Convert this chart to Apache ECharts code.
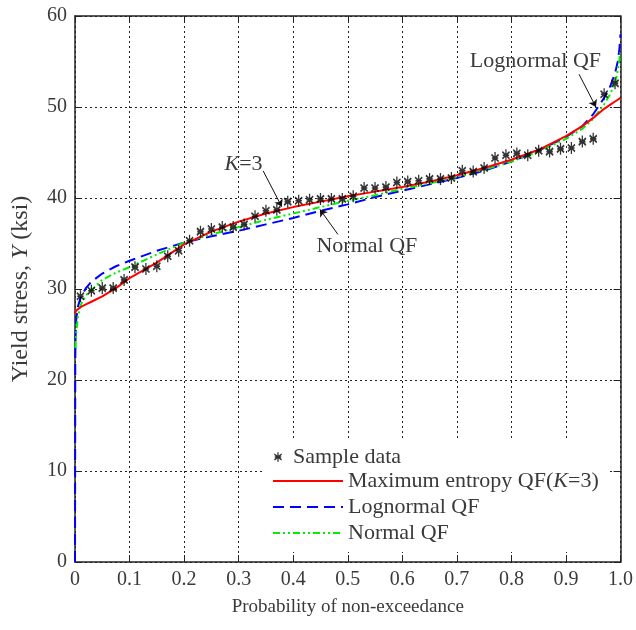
<!DOCTYPE html>
<html><head><meta charset="utf-8">
<script src="https://cdn.jsdelivr.net/npm/echarts@6/dist/echarts.min.js"></script>
<style>html,body{margin:0;padding:0;background:#fff}#c{width:636px;height:630px}</style>
</head><body><div id="c"></div>
<script>
// Sample data (plotting positions and yield stress, ksi)
const sampleP = [0.01,0.03,0.05,0.07,0.09,0.11,0.13,0.15,0.17,0.19,0.21,0.23,0.25,0.27,0.29,0.31,0.33,0.35,0.37,0.39,0.41,0.43,0.45,0.47,0.49,0.51,0.53,0.55,0.57,0.59,0.61,0.63,0.65,0.67,0.69,0.71,0.73,0.75,0.77,0.79,0.81,0.83,0.85,0.87,0.89,0.91,0.93,0.95,0.97,0.99];
const sampleY = [29.2,29.8,30.1,30.1,31.0,32.4,32.2,32.5,33.6,34.2,35.3,36.3,36.6,36.8,36.8,37.1,38.0,38.6,38.7,39.6,39.7,39.8,39.9,39.9,39.9,40.2,41.1,41.1,41.2,41.7,41.8,41.9,42.1,42.1,42.2,43.0,42.9,43.3,44.4,44.7,44.9,44.7,45.2,45.1,45.4,45.5,46.2,46.5,51.4,52.6];

// Maximum entropy QF (K=3)
const meP = [0,0.002,0.005,0.01,0.02,0.03,0.05,0.075,0.1,0.15,0.2,0.25,0.3,0.35,0.4,0.45,0.5,0.55,0.6,0.65,0.7,0.75,0.8,0.85,0.9,0.93,0.95,0.97,0.98,0.99,0.995,0.998,1.0];
const meY = [27.3,27.6,27.8,28.0,28.3,28.6,29.2,30.1,31.2,32.9,34.9,36.3,37.4,38.3,39.0,39.6,40.2,40.7,41.2,41.8,42.5,43.3,44.2,45.3,46.8,47.9,48.8,49.8,50.2,50.6,50.8,50.9,51.0];

// Lognormal QF
const lnP = [0,0.0005,0.001,0.002,0.005,0.01,0.02,0.03,0.05,0.075,0.1,0.15,0.2,0.25,0.3,0.35,0.4,0.45,0.5,0.55,0.6,0.65,0.7,0.75,0.8,0.85,0.9,0.93,0.95,0.97,0.98,0.99,0.995,0.998,1.0];
const lnY = [0,22.0,24.5,26.5,28.0,29.0,30.1,30.8,31.7,32.5,33.1,34.2,35.1,35.8,36.4,37.1,37.8,38.6,39.3,40.1,40.8,41.5,42.2,43.0,44.0,45.2,46.7,47.9,49.2,51.0,52.1,53.7,55.0,56.4,58.0];

// Normal QF
const nP = [0.001,0.002,0.005,0.01,0.02,0.03,0.05,0.075,0.1,0.15,0.2,0.25,0.3,0.35,0.4,0.45,0.5,0.55,0.6,0.65,0.7,0.75,0.8,0.85,0.9,0.93,0.95,0.97,0.98,0.99,0.995,0.998,0.999];
const nY = [23.5,25.0,26.8,28.2,29.3,29.9,31.0,31.8,32.4,33.8,35.1,36.0,36.8,37.6,38.3,39.0,39.7,40.3,41.0,41.6,42.3,43.1,44.0,45.1,46.5,47.6,48.7,50.3,51.3,52.6,54.0,55.2,56.0];

const xTicks = ['0','0.1','0.2','0.3','0.4','0.5','0.6','0.7','0.8','0.9','1.0'];
const yTicks = ['0','10','20','30','40','50','60'];

const names = ['Sample data','Maximum entropy QF(K=3)','Lognormal QF','Normal QF'];

const zip = (a, b) => a.map((v, i) => [v, b[i]]);
const FONT = 'Liberation Serif';
const TXT = '#3a3a3a';
const star = 'path://M4.2 0L5.8 0L5.8 12L4.2 12Z M1 1.7L10 8.7L9 10.3L0 3.3Z M9 1.7L10 3.3L1 10.3L0 8.7Z M1 5.2L9 5.2L9 6.8L1 6.8Z';

const chart = echarts.init(document.getElementById('c'), null, {renderer: 'canvas'});
const axisLineStyle = {color: '#222', width: 1.5};
const LF = 22;
chart.setOption({
  animation: false,
  backgroundColor: '#fff',
  textStyle: {fontFamily: FONT, color: TXT},
  grid: {left: 75, right: 11, top: 16, bottom: 68, containLabel: false},
  xAxis: [{
    type: 'value', min: 0, max: 1, interval: 0.1, position: 'bottom',
    axisLine: {show: true, onZero: false, lineStyle: axisLineStyle},
    axisTick: {show: true, inside: true, length: 7, lineStyle: {color: '#222', width: 1}},
    axisLabel: {margin: 8, fontSize: 20, fontFamily: FONT, color: TXT,
      formatter: (v) => xTicks[Math.round(v * 10)]},
    splitLine: {show: true, lineStyle: {color: '#222', type: [2, 3], width: 1}},
    name: 'Probability of non-exceedance', nameLocation: 'middle', nameGap: 36,
    nameTextStyle: {fontSize: 19, fontFamily: FONT, color: TXT}
  }, {
    type: 'value', min: 0, max: 1, interval: 0.1, position: 'top',
    axisLine: {show: true, onZero: false, lineStyle: axisLineStyle},
    axisTick: {show: true, inside: true, length: 7, lineStyle: {color: '#222', width: 1}},
    axisLabel: {show: false}, splitLine: {show: false}
  }],
  yAxis: [{
    type: 'value', min: 0, max: 60, interval: 10, position: 'left',
    axisLine: {show: true, onZero: false, lineStyle: axisLineStyle},
    axisTick: {show: true, inside: true, length: 7, lineStyle: {color: '#222', width: 1}},
    axisLabel: {margin: 8, fontSize: 20, fontFamily: FONT, color: TXT,
      formatter: (v) => yTicks[Math.round(v / 10)]},
    splitLine: {show: true, lineStyle: {color: '#222', type: [2, 3], width: 1}},
    name: '{n|Yield stress, }{i|Y}{n| (ksi)}', nameLocation: 'middle', nameGap: 42, nameRotate: 90,
    nameTextStyle: {fontSize: 24, fontFamily: FONT, color: TXT,
      rich: {n: {fontSize: 24, fontFamily: FONT, color: TXT},
             i: {fontSize: 24, fontFamily: FONT, color: TXT, fontStyle: 'italic'}}}
  }, {
    type: 'value', min: 0, max: 60, interval: 10, position: 'right',
    axisLine: {show: true, onZero: false, lineStyle: axisLineStyle},
    axisTick: {show: true, inside: true, length: 7, lineStyle: {color: '#222', width: 1}},
    axisLabel: {show: false}, splitLine: {show: false}
  }],
  legend: [{
    data: [names[1], names[2], names[3]],
    orient: 'vertical', left: 262, top: 440,
    padding: [30, 11, 8, 10],
    backgroundColor: '#fff', borderWidth: 0,
    itemWidth: 70, itemHeight: 14, itemGap: 4,
    itemStyle: {opacity: 0},
    selectedMode: false, z: 4,
    textStyle: {fontSize: LF, fontFamily: FONT, color: TXT,
      rich: {n: {fontSize: LF, fontFamily: FONT, color: TXT},
             i: {fontSize: LF, fontFamily: FONT, color: TXT, fontStyle: 'italic'}}},
    formatter: (name) => name === names[1]
      ? '{n|Maximum entropy QF(}{i|K}{n|=3)}' : '{n|' + name + '}'
  }, {
    data: [{name: names[0], icon: star}],
    orient: 'vertical', left: 274, top: 446, padding: 0,
    itemWidth: 8, itemHeight: 12, selectedMode: false, z: 6,
    itemStyle: {color: '#000'},
    textStyle: {fontSize: LF, fontFamily: FONT, color: TXT, padding: [0, 0, 0, 6]}
  }],
  series: [{
    name: names[1], type: 'line', data: zip(meP, meY), showSymbol: false, symbol: 'none',
    lineStyle: {color: '#ff0000', width: 2, type: 'solid'}, itemStyle: {color: '#ff0000'}, z: 3
  }, {
    name: names[2], type: 'line', data: zip(lnP, lnY), showSymbol: false, symbol: 'none',
    lineStyle: {color: '#0000ff', width: 2, type: [11, 6]}, itemStyle: {color: '#0000ff'}, z: 2
  }, {
    name: names[3], type: 'line', data: zip(nP, nY), showSymbol: false, symbol: 'none',
    lineStyle: {color: '#00ee00', width: 2, type: [7, 3, 2, 3, 2, 3]}, itemStyle: {color: '#00ee00'}, z: 2
  }, {
    name: names[0], type: 'scatter', data: zip(sampleP, sampleY),
    symbol: star, symbolSize: [8, 12], itemStyle: {color: '#000'}, z: 5, silent: true
  }, {
    name: 'annotations', type: 'line', data: [], silent: true, z: 6,
    markLine: {
      silent: true, symbol: ['none', 'arrow'], symbolSize: 7,
      label: {show: false},
      lineStyle: {color: '#111', width: 1, type: 'solid'},
      data: [
        [{coord: [0.345, 42.97]}, {coord: [0.379, 39.05]}],
        [{coord: [0.482, 36.0]}, {coord: [0.449, 38.75]}],
        [{coord: [0.924, 53.6]}, {coord: [0.955, 50.0]}]
      ]
    },
    markPoint: {
      silent: true, symbol: 'circle', symbolSize: 1,
      itemStyle: {color: 'rgba(0,0,0,0)'},
      label: {show: true, position: 'inside', fontSize: 22, fontFamily: FONT, color: TXT,
        rich: {n: {fontSize: 22, fontFamily: FONT, color: TXT},
               i: {fontSize: 22, fontFamily: FONT, color: TXT, fontStyle: 'italic'}}},
      data: [
        {coord: [0.309, 43.7], label: {formatter: '{i|K}{n|=3}'}},
        {coord: [0.535, 34.7], label: {formatter: '{n|Normal QF}'}},
        {coord: [0.844, 55.0], label: {formatter: '{n|Lognormal QF}'}}
      ]
    }
  }]
});
</script>
</body></html>
